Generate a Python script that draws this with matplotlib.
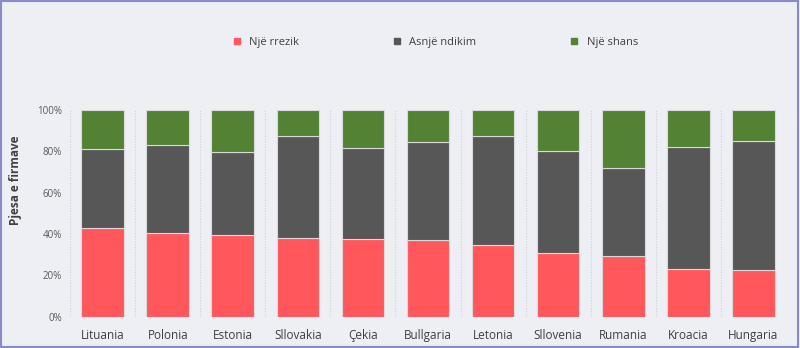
import numpy as np
import matplotlib
matplotlib.use('Agg')
import matplotlib.pyplot as plt
from matplotlib.ticker import PercentFormatter, FixedLocator
from matplotlib.lines import Line2D

plt.rcParams['font.family'] = ['Open Sans', 'DejaVu Sans']

countries = ['Lituania', 'Polonia', 'Estonia', 'Sllovakia', 'Çekia', 'Bullgaria',
             'Letonia', 'Sllovenia', 'Rumania', 'Kroacia', 'Hungaria']
risk = [42.8, 40.3, 39.5, 38.2, 37.6, 37.0, 34.7, 30.6, 29.4, 22.9, 22.4]
no_effect = [38.2, 42.6, 40.3, 49.2, 43.9, 47.4, 52.7, 49.7, 42.7, 59.2, 62.8]
chance = [100 - r - n for r, n in zip(risk, no_effect)]

labels = ['Një rrezik', 'Asnjë ndikim', 'Një shans']
colors = ['#FF575C', '#575757', '#548235']
bg = '#EEEEF5'

fig = plt.figure(figsize=(8, 3.48), dpi=100, facecolor=bg)
ax = fig.add_axes([0.088, 0.09, 0.894, 0.594], facecolor=bg)

x = np.arange(len(countries))
bottom = np.zeros(len(countries))
for vals, col, lab in zip([risk, no_effect, chance], colors, labels):
    ax.bar(x, vals, bottom=bottom, width=0.66, color=col, edgecolor='#D9D9D9',
           linewidth=0.8, label=lab, zorder=3)
    bottom += np.array(vals)

ax.set_xlim(-0.5, len(countries) - 0.5)
ax.set_ylim(0, 100)
ax.set_yticks([0, 20, 40, 60, 80, 100])
ax.yaxis.set_major_formatter(PercentFormatter(decimals=0))
ax.set_xticks(x)
ax.set_xticklabels(countries, fontsize=8.5, color='#404040')
ax.xaxis.set_minor_locator(FixedLocator(np.arange(-0.5, len(countries), 1)))
ax.grid(which='minor', axis='x', color='#D0D0D8', linestyle=(0, (1, 1.5)), linewidth=0.8, zorder=0)
ax.tick_params(axis='both', which='both', length=0)
ax.tick_params(axis='y', labelsize=7, labelcolor='#595959', pad=6)
ax.tick_params(axis='x', pad=9)
for s in ax.spines.values():
    s.set_visible(False)
ax.set_ylabel('Pjesa e firmave', fontsize=8.5, fontweight='bold', color='#404040')
ax.yaxis.set_label_coords(-0.068, 0.66)

handles = [Line2D([0], [0], marker='s', linestyle='none', markersize=5,
                  markerfacecolor=c, markeredgecolor=c) for c in colors]
fig.legend(handles, labels, loc='center', bbox_to_anchor=(0.54, 0.878), ncol=3,
           frameon=False, fontsize=8, handletextpad=0.1, columnspacing=7.8,
           labelcolor='#404040')

fig.patches.append(plt.Rectangle((0.001, 0.002), 0.997, 0.995, transform=fig.transFigure,
                                 fill=False, edgecolor='#8A8AC8', linewidth=1.5))

fig.savefig('out.png', dpi=100, facecolor=bg)
